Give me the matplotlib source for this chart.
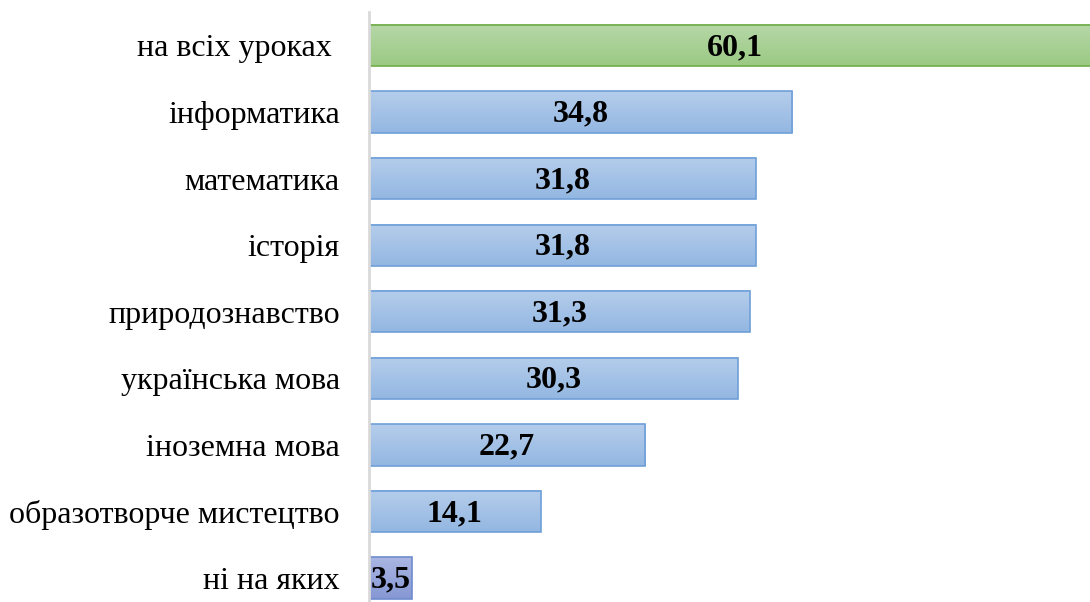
import numpy as np
import matplotlib.pyplot as plt
from matplotlib.colors import LinearSegmentedColormap

# Дані
categories = ['на всіх уроках ', 'інформатика', 'математика', 'історія',
              'природознавство', 'українська мова', 'іноземна мова',
              'образотворче мистецтво', 'ні на яких']
values = [60.1, 34.8, 31.8, 31.8, 31.3, 30.3, 22.7, 14.1, 3.5]
value_labels = ['60,1', '34,8', '31,8', '31,8', '31,3', '30,3', '22,7', '14,1', '3,5']

# кольори: (верх, низ, рамка)
green = ('#b6d7a8', '#9bca83', '#70ad47')
blue = ('#b5cdeb', '#93b7e2', '#6fa0d8')
violet = ('#aab6e2', '#8697d3', '#6f8bd0')
bar_colors = [green] + [blue] * 7 + [violet]

plt.rcParams['font.family'] = ['Liberation Serif', 'DejaVu Serif']

fig = plt.figure(figsize=(10.9, 6.02), dpi=100)
ax = fig.add_axes([369 / 1090, 0, 1 - 369 / 1090, 590 / 602])

y = np.arange(len(categories))
bars = ax.barh(y, values, height=0.62, color='none', zorder=2)

# градієнтна заливка кожного стовпця
for bar, (top, bottom, edge) in zip(bars, bar_colors):
    x0, y0 = bar.get_x(), bar.get_y()
    w, h = bar.get_width(), bar.get_height()
    cmap = LinearSegmentedColormap.from_list('g', [top, bottom])
    grad = np.linspace(0, 1, 64).reshape(-1, 1)
    ax.imshow(grad, cmap=cmap, aspect='auto', extent=(x0, x0 + w, y0 + h, y0),
              zorder=1, interpolation='bilinear')
    bar.set_edgecolor(edge)
    bar.set_linewidth(1.2)

ax.set_xlim(0, 59.25)
ax.set_ylim(8.36, -0.503)

for bar, lab in zip(bars, value_labels):
    ax.text(bar.get_x() + bar.get_width() / 2, bar.get_y() + bar.get_height() / 2 + 0.03,
            lab, ha='center', va='center', fontsize=23, fontweight='bold',
            color='black', zorder=3)

ax.set_yticks(y)
ax.set_yticklabels(categories, fontsize=23)
ax.tick_params(axis='y', length=0, pad=21)
ax.set_xticks([])

for s in ['top', 'right', 'bottom']:
    ax.spines[s].set_visible(False)
ax.spines['left'].set_color('#d9d9d9')
ax.spines['left'].set_linewidth(2)
ax.spines['left'].set_zorder(4)

fig.savefig('out.png', dpi=100)
